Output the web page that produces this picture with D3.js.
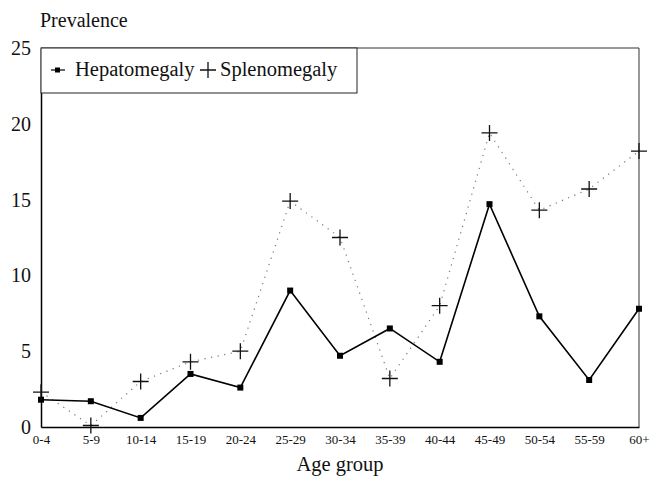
<!DOCTYPE html>
<html>
<head>
<meta charset="utf-8">
<script src="https://cdn.jsdelivr.net/npm/d3@7"></script>
<style>
  body { margin: 0; background: #fff; }
  text { font-family: "Liberation Serif", "DejaVu Serif", serif; fill: #111; }
</style>
</head>
<body>
<div id="chart"></div>
<script>
const ageGroups = ["0-4", "5-9", "10-14", "15-19", "20-24", "25-29", "30-34",
  "35-39", "40-44", "45-49", "50-54", "55-59", "60+"];
const hepatomegaly = [1.8, 1.7, 0.6, 3.5, 2.6, 9.0, 4.7, 6.5, 4.3, 14.7, 7.3, 3.1, 7.8];
const splenomegaly = [2.3, 0.1, 3.0, 4.3, 5.0, 14.9, 12.5, 3.2, 8.0, 19.4, 14.3, 15.7, 18.2];
const yTicks = [0, 5, 10, 15, 20, 25];

const W = 650, H = 479;
const margin = { top: 48, right: 11, bottom: 52, left: 41 };
const width = W - margin.left - margin.right,
  height = H - margin.top - margin.bottom;

const svg = d3.select("#chart").append("svg")
  .attr("width", W).attr("height", H);

const g = svg.append("g")
  .attr("transform", "translate(" + margin.left + "," + margin.top + ")");

const x = d3.scalePoint().domain(ageGroups).range([0, width]).padding(0);
const y = d3.scaleLinear().domain([0, 25]).range([height, 0]);

// frame (top and right)
g.append("path")
  .attr("d", "M0,0H" + width + "V" + height)
  .attr("fill", "none").attr("stroke", "#333").attr("stroke-width", 1);

// y axis
const yAxis = g.append("g")
  .call(d3.axisLeft(y).tickValues(yTicks).tickSize(0).tickPadding(10));
yAxis.select(".domain").attr("stroke", "#000").attr("stroke-width", 1.5);
yAxis.selectAll("text").style("font-size", "20px")
  .style("font-family", "Liberation Serif").attr("fill", "#111");

// x axis
const xAxis = g.append("g")
  .attr("transform", "translate(0," + height + ")")
  .call(d3.axisBottom(x).tickSize(0).tickPadding(8));
xAxis.select(".domain").attr("stroke", "#000").attr("stroke-width", 1.5);
xAxis.selectAll("text").style("font-size", "13px")
  .style("font-family", "Liberation Serif").attr("fill", "#111");

// splenomegaly dotted line
const line = d3.line().x((d, i) => x(ageGroups[i])).y(d => y(d));
g.append("path").datum(splenomegaly)
  .attr("d", line).attr("fill", "none")
  .attr("stroke", "#777").attr("stroke-width", 1.2)
  .attr("stroke-dasharray", "1.2,5.5");

// hepatomegaly solid line
g.append("path").datum(hepatomegaly)
  .attr("d", line).attr("fill", "none")
  .attr("stroke", "#000").attr("stroke-width", 1.6);

g.selectAll(".hep").data(hepatomegaly).enter().append("rect")
  .attr("x", (d, i) => x(ageGroups[i]) - 3)
  .attr("y", d => y(d) - 3)
  .attr("width", 6).attr("height", 6).attr("fill", "#000");

const cross = "M-8,0H8M0,-8V8";
g.selectAll(".spl").data(splenomegaly).enter().append("path")
  .attr("transform", (d, i) => "translate(" + x(ageGroups[i]) + "," + y(d) + ")")
  .attr("d", cross).attr("stroke", "#111").attr("stroke-width", 1.3);

// legend
const leg = g.append("g");
leg.append("rect").attr("x", 0).attr("y", 0).attr("width", 316).attr("height", 45)
  .attr("fill", "#fff").attr("stroke", "#222").attr("stroke-width", 1);
leg.append("path").attr("d", "M10,22H24").attr("stroke", "#000").attr("stroke-width", 1.2);
leg.append("rect").attr("x", 14).attr("y", 19.5).attr("width", 5).attr("height", 5).attr("fill", "#000");
leg.append("text").attr("x", 34).attr("y", 28).style("font-size", "20.5px").text("Hepatomegaly");
leg.append("path").attr("transform", "translate(167,22)").attr("d", cross)
  .attr("stroke", "#111").attr("stroke-width", 1.3);
leg.append("text").attr("x", 179).attr("y", 28).style("font-size", "20.5px").text("Splenomegaly");

// titles
svg.append("text").attr("x", 40).attr("y", 27).style("font-size", "20px").text("Prevalence");
svg.append("text").attr("x", margin.left + width / 2).attr("y", 471)
  .attr("text-anchor", "middle").style("font-size", "20.5px").text("Age group");
</script>
</body>
</html>
